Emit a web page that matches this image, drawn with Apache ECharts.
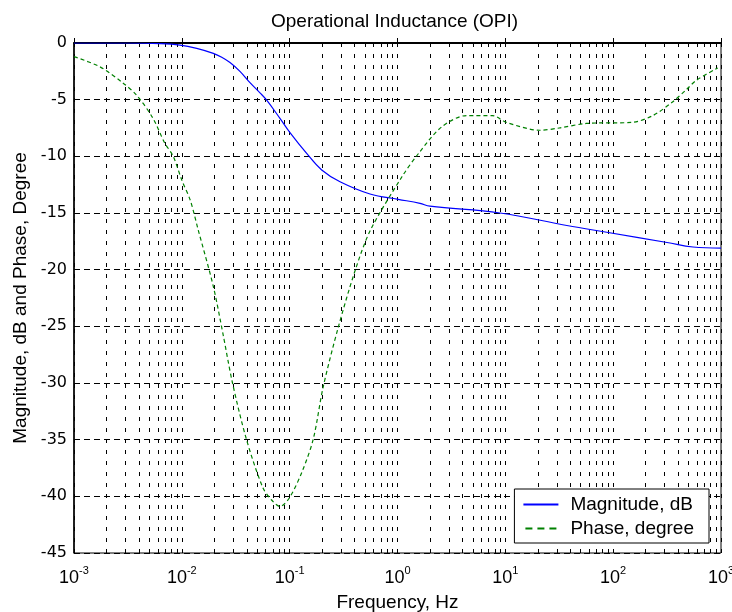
<!DOCTYPE html>
<html>
<head>
<meta charset="utf-8">
<script src="https://cdn.jsdelivr.net/npm/echarts@6/dist/echarts.min.js"></script>
<style>html,body{margin:0;padding:0;background:#fff;}#c{width:732px;height:612px;}</style>
</head>
<body>
<div id="c"></div>
<script>
// Magnitude, dB
const magFreq = [0.001, 0.00316, 0.00631, 0.00962, 0.01374, 0.01959, 0.02344, 0.02798, 0.03459, 0.04285, 0.05306, 0.06124, 0.08128, 0.1007, 0.1438, 0.1982, 0.2931, 0.5559, 1.016, 1.618, 2.0, 8.91, 37.2, 87.1, 316, 550, 1000];
const magDb   = [0, 0, -0.05, -0.18, -0.47, -0.91, -1.25, -1.72, -2.5, -3.5, -4.4, -5.05, -6.65, -7.9, -9.74, -11.2, -12.24, -13.32, -13.79, -14.15, -14.4, -15.0, -16.1, -16.7, -17.6, -18.0, -18.1];
// Phase, degree
const phFreq = [0.001, 0.00174, 0.00282, 0.00380, 0.00537, 0.00692, 0.00832, 0.01, 0.0120, 0.0141, 0.0195, 0.0240, 0.0295, 0.0398, 0.0562, 0.0676, 0.0813, 0.1, 0.132, 0.166, 0.204, 0.282, 0.407, 0.562, 1.10, 1.58, 2.57, 4.37, 7.59, 10.2, 20.9, 31.6, 56.2, 151, 234, 355, 479, 589, 933];
const phDeg  = [-1.2, -2.1, -3.5, -4.6, -6.6, -8.8, -10.0, -12.1, -13.9, -16.4, -21.4, -25.6, -30.0, -35.0, -39.2, -40.3, -40.9, -40.1, -37.7, -34.9, -30.4, -25.1, -20.0, -16.5, -11.8, -9.7, -7.4, -6.4, -6.4, -7.0, -7.7, -7.5, -7.1, -7.0, -6.4, -5.2, -4.1, -3.3, -2.2];
// Axis ticks
const xDecades = [-3, -2, -1, 0, 1, 2, 3];
const minorMult = [2, 3, 4, 5, 6, 7, 8, 9];
const yTicks = [0, -5, -10, -15, -20, -25, -30, -35, -40, -45];

const minorX = [];
for (let i = 0; i < xDecades.length - 1; i++) {
  for (const m of minorMult) minorX.push(m * Math.pow(10, xDecades[i]));
}

const vGrid = { color: '#000', width: 1, type: [4, 7] };
const hGrid = { color: '#000', width: 1, type: [6, 4] };
const yMin = yTicks[yTicks.length - 1], yMax = yTicks[0];
const markData = minorX.map(v => [{ coord: [v, yMin] }, { coord: [v, yMax] }]);

const chart = echarts.init(document.getElementById('c'), null, { renderer: 'canvas' });
const FONT = 'Liberation Sans, Arial, sans-serif';
chart.setOption({
  animation: false,
  backgroundColor: '#fff',
  title: {
    text: 'Operational Inductance (OPI)',
    left: 266, top: 7,
    textStyle: { fontFamily: FONT, fontSize: 19, fontWeight: 'normal', color: '#000' }
  },
  grid: { left: 74, right: 11, top: 43, bottom: 59, show: true, borderColor: '#000', borderWidth: 1, backgroundColor: 'transparent', outerBoundsMode: 'none', containLabel: false },
  legend: {
    right: 23, bottom: 69, orient: 'vertical', z: 20,
    backgroundColor: '#fff', borderColor: '#000', borderWidth: 1,
    padding: [6, 15, 5, 9], itemGap: 5, itemWidth: 35, itemHeight: 2,
    textStyle: { fontFamily: FONT, fontSize: 19, color: '#000', padding: [0, 0, 0, 7] },
    data: [
      { name: 'Magnitude, dB', icon: 'path://M0,0h35v2h-35z', itemStyle: { color: '#0000ff' } },
      { name: 'Phase, degree', icon: 'path://M0,0h7v2h-7z M12,0h7v2h-7z M24,0h7v2h-7z', itemStyle: { color: '#008000' } }
    ]
  },
  xAxis: {
    type: 'log', logBase: 10, min: Math.pow(10, xDecades[0]), max: Math.pow(10, xDecades[xDecades.length - 1]),
    name: 'Frequency, Hz', nameLocation: 'middle', nameGap: 40,
    nameTextStyle: { fontFamily: FONT, fontSize: 19, color: '#000' },
    axisLine: { lineStyle: { color: '#000', width: 2 } },
    axisTick: { inside: true, length: 5, lineStyle: { color: '#000' } },
    splitLine: { show: true, lineStyle: vGrid },
    axisLabel: {
      margin: 12, color: '#000',
      formatter: v => '{b|10}{s|' + Math.round(Math.log10(v)) + '}',
      rich: {
        b: { fontFamily: FONT, fontSize: 18, lineHeight: 22, verticalAlign: 'bottom', color: '#000' },
        s: { fontFamily: FONT, fontSize: 11, lineHeight: 9, verticalAlign: 'top', color: '#000' }
      }
    }
  },
  yAxis: {
    type: 'value', min: yMin, max: yMax, interval: 5,
    name: 'Magnitude, dB and Phase, Degree', nameLocation: 'middle', nameGap: 36,
    nameTextStyle: { fontFamily: FONT, fontSize: 19, color: '#000' },
    axisLine: { show: true, lineStyle: { color: '#000', width: 1.5 } },
    axisTick: { show: true, inside: true, length: 5, lineStyle: { color: '#000' } },
    splitLine: { show: true, lineStyle: hGrid },
    axisLabel: { fontFamily: 'DejaVu Sans, sans-serif', fontSize: 16, color: '#000', margin: 7 }
  },
  series: [
    {
      name: 'Magnitude, dB', type: 'line', symbol: 'none', smooth: 0.4,
      data: magFreq.map((f, i) => [f, magDb[i]]),
      lineStyle: { color: '#0000ff', width: 1.2 },
      itemStyle: { color: '#0000ff' },
      z: 3,
      markLine: {
        silent: true, symbol: 'none', label: { show: false }, animation: false, z: 1,
        lineStyle: vGrid, emphasis: { disabled: true },
        data: markData
      }
    },
    {
      name: 'Phase, degree', type: 'line', symbol: 'none', smooth: 0.3,
      data: phFreq.map((f, i) => [f, phDeg[i]]),
      lineStyle: { color: '#008000', width: 1.2, type: [4, 3] },
      itemStyle: { color: '#008000' },
      z: 3
    }
  ]
});
</script>
</body>
</html>
